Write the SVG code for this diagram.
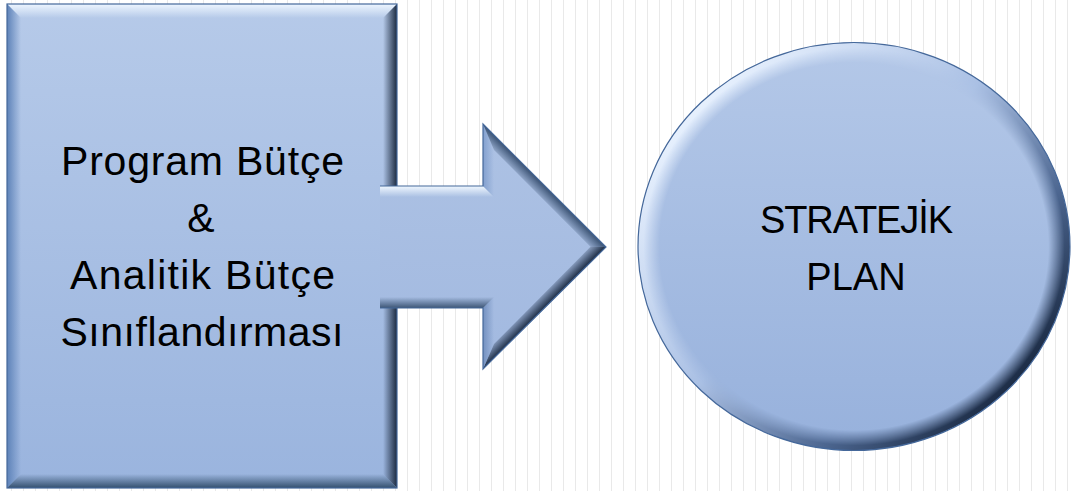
<svg xmlns="http://www.w3.org/2000/svg" width="1071" height="491" viewBox="0 0 1071 491">
  <style>
    .lbl { font-family: "Liberation Sans", Arial, sans-serif; fill: #000; text-anchor: middle; }
    .edge { fill: none; stroke: #45689a; stroke-width: 1.2; }
  </style>
  <defs>
    <pattern id="stripes" x="0" y="0" width="12" height="491" patternUnits="userSpaceOnUse">
      <rect x="11.25" y="0" width="1.5" height="491" fill="#e2e2e2"/>
    </pattern>
    <linearGradient id="rectFill" x1="0" y1="0" x2="0" y2="1">
      <stop offset="0" stop-color="#b6cae9"/>
      <stop offset="1" stop-color="#9ab4de"/>
    </linearGradient>
    <linearGradient id="arrowFill" x1="0" y1="0" x2="0" y2="1">
      <stop offset="0" stop-color="#adc2e4"/>
      <stop offset="1" stop-color="#a2b9e0"/>
    </linearGradient>
    <linearGradient id="circFill" x1="0" y1="0" x2="0" y2="1">
      <stop offset="0" stop-color="#b4c8e8"/>
      <stop offset="1" stop-color="#97b1dc"/>
    </linearGradient>
    <!-- rect bevels -->
    <linearGradient id="rTop" gradientUnits="userSpaceOnUse" x1="0" y1="4" x2="0" y2="18">
      <stop offset="0" stop-color="#eef6ff" stop-opacity="1"/>
      <stop offset="1" stop-color="#eef6ff" stop-opacity="0"/>
    </linearGradient>
    <linearGradient id="rLeft" gradientUnits="userSpaceOnUse" x1="7" y1="0" x2="21" y2="0">
      <stop offset="0" stop-color="#5d82b8" stop-opacity="1"/>
      <stop offset="1" stop-color="#5d82b8" stop-opacity="0"/>
    </linearGradient>
    <linearGradient id="rRight" gradientUnits="userSpaceOnUse" x1="397" y1="0" x2="383" y2="0">
      <stop offset="0" stop-color="#1b2a40" stop-opacity="1"/>
      <stop offset="1" stop-color="#1b2a40" stop-opacity="0"/>
    </linearGradient>
    <linearGradient id="rBottom" gradientUnits="userSpaceOnUse" x1="0" y1="488" x2="0" y2="474">
      <stop offset="0" stop-color="#34506f" stop-opacity="1"/>
      <stop offset="1" stop-color="#34506f" stop-opacity="0"/>
    </linearGradient>
    <!-- arrow bevels -->
    <linearGradient id="aTop" gradientUnits="userSpaceOnUse" x1="0" y1="186" x2="0" y2="197">
      <stop offset="0" stop-color="#f0f8ff" stop-opacity="1"/>
      <stop offset="1" stop-color="#f0f8ff" stop-opacity="0"/>
    </linearGradient>
    <linearGradient id="aBot" gradientUnits="userSpaceOnUse" x1="0" y1="308" x2="0" y2="297">
      <stop offset="0" stop-color="#3d5676" stop-opacity="1"/>
      <stop offset="1" stop-color="#3d5676" stop-opacity="0"/>
    </linearGradient>
    <linearGradient id="aUpV" gradientUnits="userSpaceOnUse" x1="483" y1="0" x2="494" y2="0">
      <stop offset="0" stop-color="#7e9ccc" stop-opacity="0.9"/>
      <stop offset="1" stop-color="#7e9ccc" stop-opacity="0"/>
    </linearGradient>
    <linearGradient id="aLoV" gradientUnits="userSpaceOnUse" x1="483" y1="0" x2="494" y2="0">
      <stop offset="0" stop-color="#6e8cbc" stop-opacity="0.9"/>
      <stop offset="1" stop-color="#6e8cbc" stop-opacity="0"/>
    </linearGradient>
    <linearGradient id="aDiagUp" gradientUnits="userSpaceOnUse" x1="544.5" y1="185.5" x2="534.5" y2="195.5">
      <stop offset="0" stop-color="#3a5273" stop-opacity="1"/>
      <stop offset="1" stop-color="#3a5273" stop-opacity="0"/>
    </linearGradient>
    <linearGradient id="aDiagLo" gradientUnits="userSpaceOnUse" x1="544.5" y1="308" x2="534.5" y2="298">
      <stop offset="0" stop-color="#1e2e46" stop-opacity="1"/>
      <stop offset="1" stop-color="#1e2e46" stop-opacity="0"/>
    </linearGradient>
    <!-- circle rim -->
    <linearGradient id="rimCol" x1="0.15" y1="0.1" x2="0.95" y2="0.8">
      <stop offset="0" stop-color="#eaf3ff"/>
      <stop offset="0.45" stop-color="#aac0e4"/>
      <stop offset="0.75" stop-color="#4c6690"/>
      <stop offset="1" stop-color="#15233a"/>
    </linearGradient>
    <radialGradient id="rimMaskGrad" cx="0.5" cy="0.5" r="0.5">
      <stop offset="0.9" stop-color="#000"/>
      <stop offset="0.975" stop-color="#fff"/>
      <stop offset="1" stop-color="#fff"/>
    </radialGradient>
    <mask id="rimMask" maskUnits="userSpaceOnUse" x="600" y="0" width="471" height="491">
      <ellipse cx="854" cy="246.5" rx="216" ry="204" fill="url(#rimMaskGrad)"/>
    </mask>
  </defs>

  <rect x="0" y="0" width="1071" height="491" fill="#ffffff"/>
  <rect x="0" y="0" width="1071" height="491" fill="url(#stripes)"/>

  <g id="node-program">
    <rect x="7" y="4" width="390" height="484" fill="url(#rectFill)"/>
    <polygon points="7,4 397,4 383,18 21,18" fill="url(#rTop)"/>
    <polygon points="7,4 21,18 21,474 7,488" fill="url(#rLeft)"/>
    <polygon points="397,4 397,488 383,474 383,18" fill="url(#rRight)"/>
    <polygon points="7,488 397,488 383,474 21,474" fill="url(#rBottom)"/>
    <rect x="7" y="4" width="390" height="484" class="edge"/>
    <text class="lbl" x="202.5" y="175" font-size="41" textLength="283">Program Bütçe</text>
    <text class="lbl" x="201" y="232" font-size="41">&amp;</text>
    <text class="lbl" x="202.5" y="289" font-size="41" textLength="265">Analitik Bütçe</text>
    <text class="lbl" x="202" y="346" font-size="41" textLength="283">Sınıflandırması</text>
  </g>

  <g id="connectors">
    <g id="arrow-right">
      <polygon points="380,186 483,186 483,124 606,247 483,369 483,308 380,308" fill="url(#arrowFill)"/>
      <polygon points="380,186 483,186 494,197 380,197" fill="url(#aTop)"/>
      <polygon points="483,186 483,124 494,150 494,197" fill="url(#aUpV)"/>
      <polygon points="483,124 606,247 590.5,246.8 494,150" fill="url(#aDiagUp)"/>
      <polygon points="606,247 483,369 494,344 590.5,246.8" fill="url(#aDiagLo)"/>
      <polygon points="483,369 483,308 494,297 494,344" fill="url(#aLoV)"/>
      <polygon points="483,308 380,308 380,297 494,297" fill="url(#aBot)"/>
      <polyline points="380,186 483,186 483,124 606,247 483,369 483,308 380,308" class="edge"/>
    </g>
  </g>

  <g id="node-stratejik">
    <ellipse cx="854" cy="246.5" rx="216" ry="204" fill="url(#circFill)"/>
    <ellipse cx="854" cy="246.5" rx="216" ry="204" fill="url(#rimCol)" mask="url(#rimMask)"/>
    <ellipse cx="854" cy="246.5" rx="216" ry="204" class="edge"/>
    <text class="lbl" x="856.5" y="233" font-size="38" textLength="193">STRATEJİK</text>
    <text class="lbl" x="856" y="290" font-size="38">PLAN</text>
  </g>
</svg>
